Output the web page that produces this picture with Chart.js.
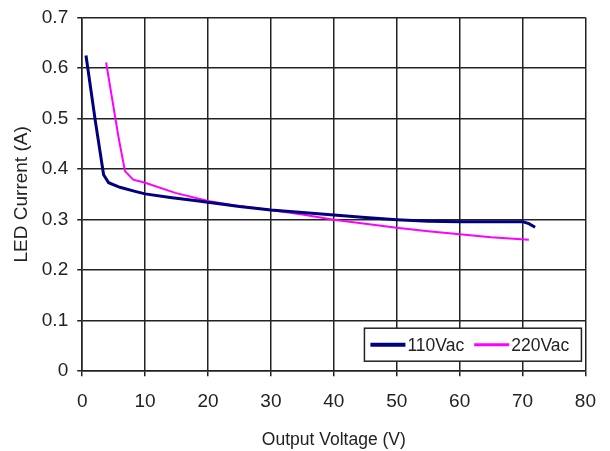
<!DOCTYPE html>
<html>
<head>
<meta charset="utf-8">
<script src="https://cdn.jsdelivr.net/npm/chart.js@4.4.0/dist/chart.umd.min.js"></script>
<style>
  html, body { margin: 0; padding: 0; background: #fff; }
  #wrap { width: 610px; height: 451px; }
</style>
</head>
<body>
<div id="wrap"><canvas id="myChart" width="610" height="451"></canvas></div>
<script>
// values
const voltage110 = [0.6, 2.1, 3.4, 4.2, 6, 8.4, 10, 14, 18.5, 25, 30, 35, 40, 45, 50, 55, 60, 65, 70, 71, 72];
const current110 = [0.625, 0.494, 0.389, 0.373, 0.364, 0.356, 0.351, 0.344, 0.337, 0.326, 0.319, 0.314, 0.309, 0.304, 0.300, 0.297, 0.296, 0.296, 0.296, 0.292, 0.285];
const voltage220 = [3.8, 5.8, 6.8, 8.1, 10, 14.8, 20, 24.3, 30, 35, 40, 45, 50, 55, 60, 65, 71];
const current220 = [0.611, 0.461, 0.396, 0.379, 0.373, 0.353, 0.337, 0.328, 0.319, 0.310, 0.300, 0.292, 0.284, 0.277, 0.271, 0.265, 0.260];
const seriesNames = ["110Vac", "220Vac"];
const xTicks = [0, 10, 20, 30, 40, 50, 60, 70, 80];
const yTicks = [0, 0.1, 0.2, 0.3, 0.4, 0.5, 0.6, 0.7];

const FONT = "'Liberation Sans', Arial, sans-serif";

function toPoints(xs, ys) {
  return xs.map(function (x, i) { return { x: x, y: ys[i] }; });
}

// legend box drawn inside the plot, bottom right
const boxLegend = {
  id: "boxLegend",
  afterDraw: function (chart) {
    const ctx = chart.ctx;
    const area = chart.chartArea;
    const w = 217, h = 33;
    const x0 = area.right - w - 4, y0 = area.bottom - h - 10;
    ctx.save();
    ctx.fillStyle = "#fff";
    ctx.fillRect(x0, y0, w, h);
    ctx.strokeStyle = "#222";
    ctx.lineWidth = 1.5;
    ctx.strokeRect(x0, y0, w, h);
    ctx.font = "17.5px " + FONT;
    ctx.textBaseline = "middle";
    let x = x0 + 6;
    const yMid = y0 + h / 2;
    chart.data.datasets.forEach(function (ds) {
      ctx.strokeStyle = ds.borderColor;
      ctx.lineWidth = ds.borderWidth + 1;
      ctx.beginPath();
      ctx.moveTo(x, yMid);
      ctx.lineTo(x + 35, yMid);
      ctx.stroke();
      ctx.fillStyle = "#222";
      ctx.fillText(ds.label, x + 37, yMid + 1);
      x += 37 + ctx.measureText(ds.label).width + 10;
    });
    ctx.restore();
  }
};

new Chart(document.getElementById("myChart"), {
  type: "line",
  data: {
    datasets: [
      {
        label: seriesNames[0],
        data: toPoints(voltage110, current110),
        borderColor: "#000080",
        borderWidth: 3,
        pointRadius: 0,
        tension: 0,
        fill: false
      },
      {
        label: seriesNames[1],
        data: toPoints(voltage220, current220),
        borderColor: "#ff00ff",
        borderWidth: 2,
        pointRadius: 0,
        tension: 0,
        fill: false
      }
    ]
  },
  options: {
    responsive: false,
    animation: false,
    layout: { padding: { top: 2, right: 24, left: 10, bottom: 0 } },
    plugins: {
      legend: { display: false },
      tooltip: { enabled: false }
    },
    scales: {
      x: {
        type: "linear",
        min: 0,
        max: 80,
        afterBuildTicks: function (axis) { axis.ticks = xTicks.map(function (v) { return { value: v }; }); },
        grid: { color: "#222", lineWidth: 1.5, tickLength: 5 },
        border: { color: "#222", width: 1.5 },
        ticks: { color: "#222", font: { family: FONT, size: 19 }, padding: 14, maxRotation: 0 },
        title: { display: true, text: "Output Voltage (V)", color: "#222", font: { family: FONT, size: 17.5 }, padding: { top: 3, bottom: 0 } }
      },
      y: {
        type: "linear",
        min: 0,
        max: 0.7,
        afterBuildTicks: function (axis) { axis.ticks = yTicks.map(function (v) { return { value: v }; }); },
        grid: { color: "#222", lineWidth: 1.5, tickLength: 5 },
        border: { color: "#222", width: 1.5 },
        ticks: {
          color: "#222",
          font: { family: FONT, size: 19, lineHeight: 0.9 },
          padding: 9,
          callback: function (v) { return v === 0 ? "0" : v.toFixed(1); }
        },
        title: { display: true, text: "LED Current (A)", color: "#222", font: { family: FONT, size: 19 }, padding: { top: 0, bottom: 0 } }
      }
    }
  },
  plugins: [boxLegend]
});
</script>
</body>
</html>
